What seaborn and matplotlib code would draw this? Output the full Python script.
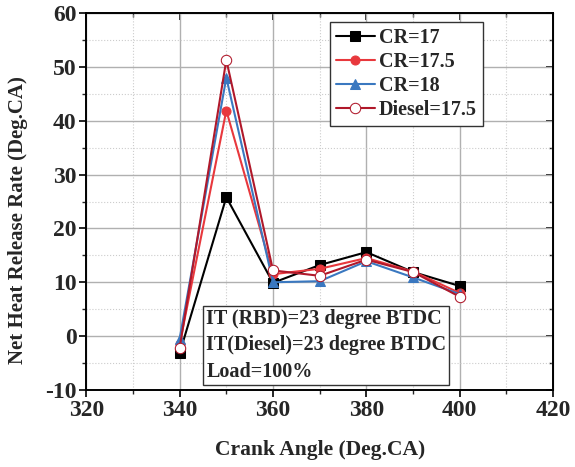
import numpy as np
import pandas as pd
import matplotlib
matplotlib.use('Agg')
import matplotlib.pyplot as plt
import seaborn as sns
from matplotlib.ticker import MultipleLocator

# Data
crank_angle = [340, 350, 360, 370, 380, 390, 400]
cr_17 = [-3.2, 25.8, 9.9, 13.2, 15.6, 11.9, 9.3]
cr_17_5 = [-1.5, 41.9, 11.5, 12.5, 14.5, 12.0, 8.0]
cr_18 = [-0.5, 48.0, 10.0, 10.2, 13.9, 10.9, 7.8]
diesel_17_5 = [-2.2, 51.3, 12.2, 11.2, 14.2, 11.9, 7.3]

series_names = ['CR=17', 'CR=17.5', 'CR=18', 'Diesel=17.5']
series_vals = [cr_17, cr_17_5, cr_18, diesel_17_5]

df = pd.DataFrame({
    'Crank Angle': crank_angle * 4,
    'HRR': sum(series_vals, []),
    'Series': np.repeat(series_names, len(crank_angle)),
})

sns.set_style('ticks')
plt.rcParams['font.family'] = ['Liberation Serif', 'DejaVu Serif']
plt.rcParams['font.weight'] = 'bold'
plt.rcParams['axes.unicode_minus'] = False

fig = plt.figure(figsize=(5.75, 4.67), dpi=100)
ax = fig.add_axes([0.15, 0.165, 0.812, 0.807])

palette = {'CR=17': '#000000', 'CR=17.5': '#e8383d',
           'CR=18': '#3a78c0', 'Diesel=17.5': '#b0182a'}
markers = {'CR=17': 's', 'CR=17.5': 'o', 'CR=18': '^', 'Diesel=17.5': 'o'}

for name in series_names:
    sub = df[df['Series'] == name]
    kw = dict(marker=markers[name], markersize=6.5, markeredgecolor=palette[name])
    if name == 'Diesel=17.5':
        kw['markerfacecolor'] = 'white'
        kw['markersize'] = 7.5
    else:
        kw['markerfacecolor'] = palette[name]
    sns.lineplot(data=sub, x='Crank Angle', y='HRR', color=palette[name],
                 linewidth=1.5, label=name, ax=ax, **kw)

ax.set_xlim(320, 420)
ax.set_ylim(-10, 60)
ax.xaxis.set_major_locator(MultipleLocator(20))
ax.xaxis.set_minor_locator(MultipleLocator(10))
ax.yaxis.set_major_locator(MultipleLocator(10))
ax.yaxis.set_minor_locator(MultipleLocator(5))

ax.grid(which='major', color='#b0b0b0', linewidth=1.0)
ax.grid(which='minor', color='#cccccc', linewidth=0.8, linestyle=':')
ax.set_axisbelow(True)

for s in ax.spines.values():
    s.set_linewidth(1.4)
    s.set_color('black')
ax.tick_params(which='major', direction='out', length=5, width=1.4,
               labelsize=17, pad=2)
ax.tick_params(which='minor', direction='out', length=3, width=1.0)
for lab in ax.get_xticklabels() + ax.get_yticklabels():
    lab.set_fontweight('bold')

# inward ticks on the top and right edges
top = ax.secondary_xaxis('top')
top.xaxis.set_major_locator(MultipleLocator(20))
top.xaxis.set_minor_locator(MultipleLocator(10))
top.tick_params(which='major', direction='in', length=5, width=1.4, labeltop=False)
top.tick_params(which='minor', direction='in', length=3, width=1.0)
right = ax.secondary_yaxis('right')
right.yaxis.set_major_locator(MultipleLocator(10))
right.yaxis.set_minor_locator(MultipleLocator(5))
right.tick_params(which='major', direction='in', length=5, width=1.4, labelright=False)
right.tick_params(which='minor', direction='in', length=3, width=1.0)

ax.set_xlabel('Crank Angle (Deg.CA)', fontsize=15.5, fontweight='bold', labelpad=14)
ax.set_ylabel('Net Heat Release Rate (Deg.CA)', fontsize=15, fontweight='bold')
ax.yaxis.set_label_coords(-0.125, 0.45)

leg = ax.legend(loc='upper right', bbox_to_anchor=(0.849, 0.976),
                prop={'weight': 'bold', 'size': 14.5}, frameon=True,
                fancybox=False, handlelength=1.9, handletextpad=0.2,
                labelspacing=0.2, borderpad=0.3, borderaxespad=0)
leg.get_frame().set_edgecolor('#333333')
leg.get_frame().set_linewidth(1.0)
leg.get_frame().set_alpha(1)

ax.text(0.257, 0.022,
        'IT (RBD)=23 degree BTDC\nIT(Diesel)=23 degree BTDC\nLoad=100%',
        transform=ax.transAxes, fontsize=14.5, fontweight='bold',
        linespacing=1.42, va='bottom', ha='left',
        bbox=dict(boxstyle='square,pad=0.15', facecolor='white',
                  edgecolor='#333333', linewidth=1.0))

fig.savefig('out.png', dpi=100)
